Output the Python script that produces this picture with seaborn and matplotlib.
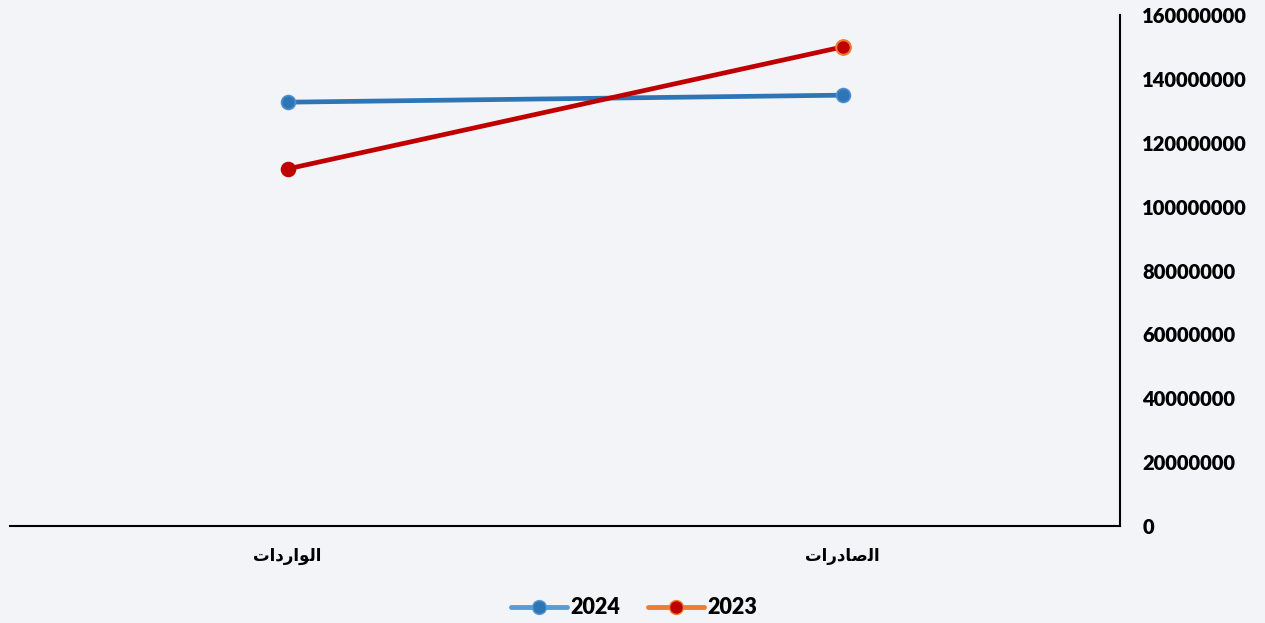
import matplotlib
matplotlib.use("Agg")
import matplotlib.pyplot as plt
from matplotlib.lines import Line2D
import seaborn as sns
import pandas as pd

# ---- data ----
# Arabic labels pre-shaped (presentation forms, visual order) because matplotlib has no shaping
cat_labels = ["\uFE95\uFE8D\uFEA9\uFEAD\uFE8D\uFEEE\uFEDF\uFE8D",   # الواردات
              "\uFE95\uFE8D\uFEAD\uFEA9\uFE8E\uFEBB\uFEDF\uFE8D"]   # الصادرات
series_names = ["2024", "2023"]
values_2024 = [132700000, 134900000]
values_2023 = [111800000, 150000000]
y_ticks = [0, 20000000, 40000000, 60000000, 80000000, 100000000,
           120000000, 140000000, 160000000]

df = pd.DataFrame({
    "cat": list(range(len(cat_labels))) * 2,
    "value": values_2024 + values_2023,
    "year": [series_names[0]] * 2 + [series_names[1]] * 2,
})

sns.set_style("white")
plt.rcParams["font.family"] = ["Lato", "DejaVu Sans"]
plt.rcParams["text.color"] = "black"
plt.rcParams["xtick.color"] = "black"
plt.rcParams["ytick.color"] = "black"

bg = "#f3f4f7"
fig = plt.figure(figsize=(12.65, 6.23), dpi=100, facecolor=bg)
ax = fig.add_axes([10 / 1265, 1 - 526 / 623, 1110 / 1265, 511 / 623])
ax.set_facecolor(bg)

pal = {"2024": "#2e75b6", "2023": "#c00000"}
sns.lineplot(data=df, x="cat", y="value", hue="year", palette=pal, ax=ax,
             linewidth=3.4, marker="o", markersize=10, legend=False,
             hue_order=series_names)
for ln, ec in zip(ax.lines, ["#4f8fd0", "#c00000"]):
    ln.set_markeredgecolor(ec)
    ln.set_markeredgewidth(1.2)
# orange-rimmed marker on last 2023 point
sns.scatterplot(x=[1], y=[values_2023[1]], ax=ax, s=110, color="#c00000",
                edgecolor="#ed7d31", linewidth=1.5, zorder=5, legend=False)

ax.set_xlim(-0.5, 1.5)
ax.set_ylim(0, 160000000)
ax.set_xticks(range(len(cat_labels)))
ax.set_xticklabels(cat_labels, fontsize=12, fontweight="bold",
                   family=["DejaVu Sans"], color="black")
ax.yaxis.tick_right()
ax.set_yticks(y_ticks)
ax.set_yticklabels([str(v) for v in y_ticks], fontsize=14.5, fontweight="heavy",
                   color="black")
for lbl in ax.get_yticklabels():
    lbl.set_horizontalalignment("left")
ax.tick_params(axis="y", length=0, pad=16)
ax.tick_params(axis="x", length=0, pad=15)
ax.set_xlabel("")
ax.set_ylabel("")

for s in ["top", "left"]:
    ax.spines[s].set_visible(False)
for s in ["right", "bottom"]:
    ax.spines[s].set_visible(True)
    ax.spines[s].set_color("black")
    ax.spines[s].set_linewidth(1.5)

handles = [
    Line2D([0], [0], color="#5b9bd5", lw=3.5, marker="o", markersize=10,
           markerfacecolor="#2e75b6", markeredgecolor="#5b9bd5"),
    Line2D([0], [0], color="#ed7d31", lw=3.5, marker="o", markersize=10,
           markerfacecolor="#c00000", markeredgecolor="#ed7d31"),
]
leg = fig.legend(handles, series_names, loc="center", bbox_to_anchor=(634 / 1265, 1 - 608 / 623),
                 ncol=2, frameon=False, handlelength=2.6, handletextpad=0.15,
                 columnspacing=1.3, prop={"size": 15.5, "weight": "heavy"})
for t in leg.get_texts():
    t.set_color("black")

fig.savefig("out.png", dpi=100, facecolor=bg)
